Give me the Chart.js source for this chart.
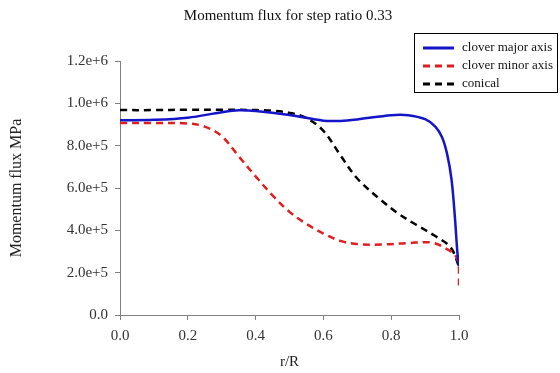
<!DOCTYPE html>
<html>
<head>
<meta charset="utf-8">
<script src="https://cdn.jsdelivr.net/npm/chart.js@4/dist/chart.umd.min.js"></script>
<style>
  html, body { margin: 0; padding: 0; background: #fff; }
  #wrap { width: 560px; height: 373px; position: relative; }
</style>
</head>
<body>
<div id="wrap"><canvas id="flux-chart"></canvas></div>
<script>
// r/R positions and momentum flux values
var majorR    = [0, 0.1, 0.2, 0.3, 0.35, 0.4, 0.5, 0.6, 0.65, 0.7, 0.8, 0.85, 0.9, 0.93, 0.95, 0.965, 0.978, 0.988, 0.995, 1.0];
var majorFlux = [920000, 922000, 932000, 958000, 967000, 964000, 945000, 918000, 917000, 924000, 944000, 944000, 925000, 890000, 840000, 760000, 640000, 460000, 300000, 230000];

var minorR    = [0, 0.1, 0.2, 0.25, 0.3, 0.35, 0.4, 0.45, 0.5, 0.55, 0.6, 0.65, 0.7, 0.77, 0.85, 0.92, 0.96, 0.99, 1.0, 1.0];
var minorFlux = [907000, 907000, 905000, 890000, 845000, 750000, 655000, 565000, 487000, 430000, 385000, 350000, 335000, 333000, 340000, 342000, 315000, 280000, 220000, 130000];

var conicalR    = [0, 0.1, 0.2, 0.3, 0.4, 0.45, 0.5, 0.55, 0.6, 0.65, 0.7, 0.77, 0.82, 0.875, 0.925, 0.975, 1.0];
var conicalFlux = [968000, 968000, 970000, 970000, 968000, 965000, 955000, 930000, 870000, 755000, 645000, 543000, 480000, 425000, 378000, 320000, 230000];

var seriesLabels = ["clover major axis", "clover minor axis", "conical"];
var yTickLabels = ["0.0", "2.0e+5", "4.0e+5", "6.0e+5", "8.0e+5", "1.0e+6", "1.2e+6"];

function pairs(xs, ys) {
    return xs.map(function (x, i) { return { x: x, y: ys[i] }; });
}

var serif = "'Liberation Serif', 'Times New Roman', serif";

// title + boxed legend drawn inside the canvas
var overlay = {
    id: 'overlay',
    afterDraw: function (chart) {
        var c = chart.ctx;
        c.save();
        c.fillStyle = '#111';
        c.font = '15px ' + serif;
        c.textAlign = 'center';
        c.textBaseline = 'middle';
        c.fillText('Momentum flux for step ratio 0.33', 288, 16);

        c.strokeStyle = '#000';
        c.lineWidth = 1;
        c.strokeRect(414.5, 33.5, 143, 59);
        c.font = '13px ' + serif;
        c.textAlign = 'left';
        chart.data.datasets.forEach(function (ds, i) {
            var y = 48 + i * 18;
            c.beginPath();
            c.strokeStyle = ds.borderColor;
            c.lineWidth = 3;
            c.setLineDash(ds.borderDash || []);
            c.moveTo(423, y);
            c.lineTo(454, y);
            c.stroke();
            c.setLineDash([]);
            c.fillText(ds.label, 462, y);
        });
        c.restore();
    }
};

var ctx = document.getElementById('flux-chart');

var chartData = {
    datasets: [{
        label: seriesLabels[0],
        data: pairs(majorR, majorFlux),
        borderColor: '#1414c8',
        borderWidth: 2.5
    }, {
        label: seriesLabels[1],
        data: pairs(minorR, minorFlux),
        borderColor: '#e01e1e',
        borderWidth: 2.5,
        borderDash: [7, 5]
    }, {
        label: seriesLabels[2],
        data: pairs(conicalR, conicalFlux),
        borderColor: '#000000',
        borderWidth: 2.5,
        borderDash: [7, 5]
    }]
};

var chartOptions = {
    responsive: true,
    maintainAspectRatio: false,
    animation: false,
    layout: { padding: { top: 61, right: 101, bottom: 0, left: 0 } },
    elements: {
        point: { radius: 0 },
        line: { tension: 0.35, fill: false }
    },
    plugins: {
        legend: { display: false },
        title: { display: false },
        tooltip: { enabled: false }
    },
    scales: {
        x: {
            type: 'linear',
            min: 0,
            max: 1,
            afterFit: function (scale) { scale.height = 58; },
            ticks: {
                stepSize: 0.2,
                color: '#333',
                padding: 7,
                font: { family: serif, size: 15 },
                callback: function (v) { return Number(v).toFixed(1); }
            },
            grid: { drawOnChartArea: false, drawTicks: true, tickLength: 5, color: '#808080' },
            border: { color: '#808080' },
            title: {
                display: true,
                text: 'r/R',
                color: '#222',
                font: { family: serif, size: 15 },
                padding: { top: 2, bottom: 2 }
            }
        },
        y: {
            min: 0,
            max: 1200000,
            afterFit: function (scale) { scale.width = 120; },
            ticks: {
                stepSize: 200000,
                color: '#333',
                padding: 7,
                font: { family: serif, size: 15 },
                callback: function (v, i) { return yTickLabels[i]; }
            },
            grid: { drawOnChartArea: false, drawTicks: true, tickLength: 5, color: '#808080' },
            border: { color: '#808080' },
            title: {
                display: true,
                text: 'Momentum flux MPa',
                color: '#222',
                font: { family: serif, size: 16 },
                padding: { top: 7, bottom: 4 }
            }
        }
    }
};

var fluxChart = new Chart(ctx, {
    type: 'line',
    data: chartData,
    options: chartOptions,
    plugins: [overlay]
});
</script>
</body>
</html>
